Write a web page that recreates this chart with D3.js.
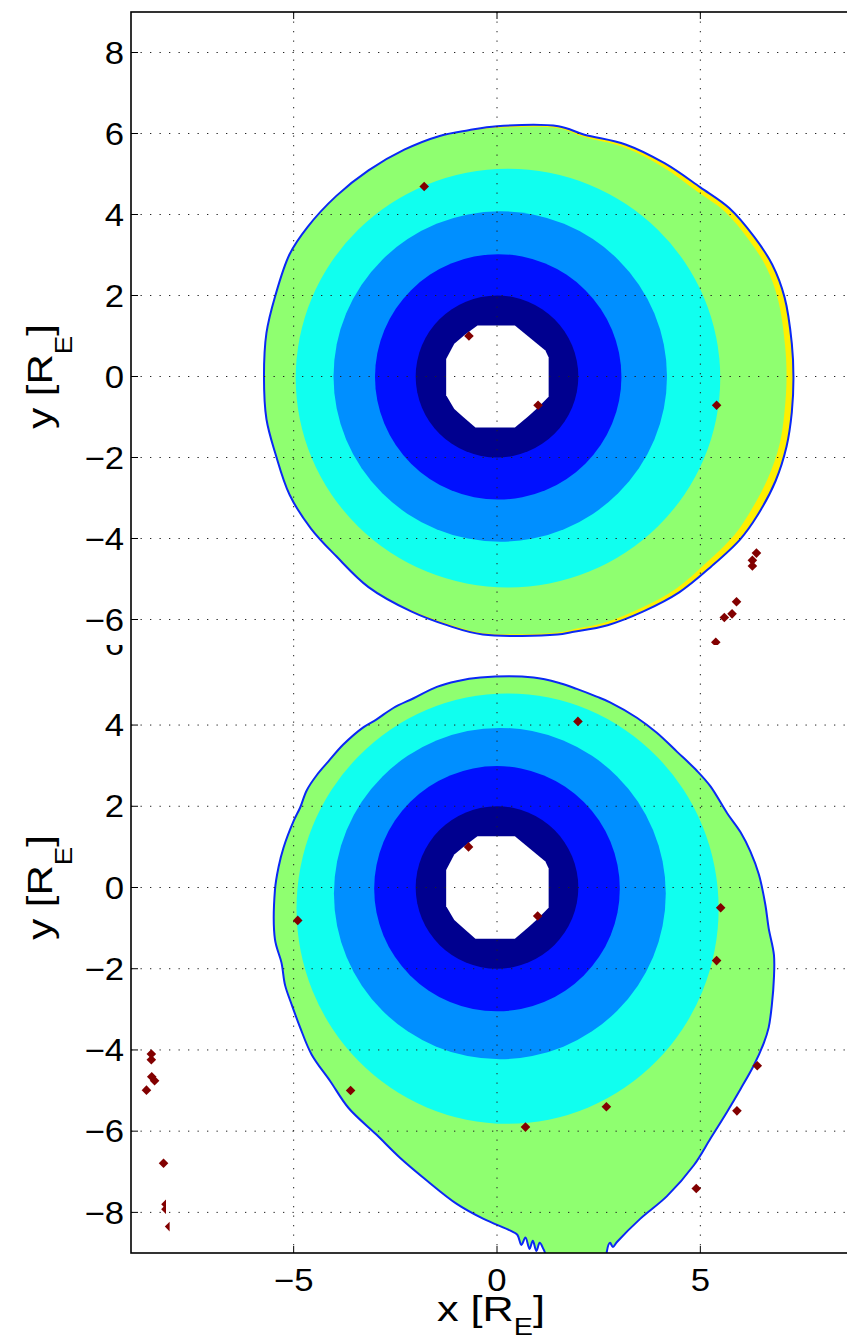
<!DOCTYPE html>
<html>
<head>
<meta charset="utf-8">
<script src="https://cdn.jsdelivr.net/npm/d3@7"></script>
<style>
  html, body { margin: 0; padding: 0; background: #fff; }
  svg { display: block; font-family: "Liberation Sans", Arial, Helvetica, sans-serif; }
</style>
</head>
<body>
<svg id="chart" width="847" height="1342"></svg>
<script>
// --- data (units of R_E) ---
const xTicks = [-5, 0, 5];
const yTicks = [8, 6, 4, 2, 0, -2, -4, -6, -8];

// jet levels, inner ring -> outer rim
const levelColors = ['#00008f', '#0010ff', '#008fff', '#10ffef', '#8fff70', '#ffef00'];

// white hole around the Earth (same in both panels)
const hole = [[-0.48, 1.26], [0.44, 1.26], [1.19, 0.64], [1.27, 0.47], [1.27, -0.5], [0.97, -0.8], [0.75, -1.0],
  [0.44, -1.26], [-0.53, -1.26], [-0.83, -1.0], [-1.05, -0.8], [-1.25, -0.46], [-1.25, 0.43], [-1.05, 0.81], [-0.79, 1.03]];

// top panel : level rings [cx, cy, rx, ry] navy, blue, mid blue, cyan
const topRings = [[0, 0, 2.0, 2.0], [0.03, -0.01, 3.03, 3.03], [0.08, 0, 4.1, 4.08], [0.27, -0.04, 5.22, 5.17]];
const topOuter = [[-0.7, 6.08], [0, 6.18], [1.51, 6.18], [2.15, 5.97], [3.16, 5.73], [4.13, 5.26], [5.0, 4.67],
  [5.71, 4.16], [6.33, 3.44], [6.77, 2.76], [7.07, 1.96], [7.25, 0.81], [7.29, -0.03], [7.25, -0.88], [7.12, -1.73],
  [6.85, -2.58], [6.41, -3.42], [5.98, -4.02], [5.27, -4.69], [4.48, -5.33], [3.6, -5.8], [2.72, -6.14], [1.85, -6.31],
  [1.49, -6.37], [-0.35, -6.37], [-1.23, -6.14], [-2.11, -5.8], [-3.16, -5.2], [-3.95, -4.44], [-4.57, -3.76],
  [-5.1, -2.92], [-5.45, -1.9], [-5.67, -1.05], [-5.73, 0], [-5.67, 1.07], [-5.45, 2.0], [-5.1, 3.02], [-4.66, 3.69],
  [-3.95, 4.46], [-3.16, 5.09], [-2.28, 5.6], [-1.41, 5.94]];
// width of the yellow rim at each outer point
const topRim = [0.02, 0.04, 0.05, 0.06, 0.08, 0.1, 0.13, 0.14, 0.15, 0.16, 0.17, 0.17, 0.17, 0.18, 0.18, 0.2, 0.2,
  0.18, 0.15, 0.12, 0.1, 0.08, 0.06, 0.05, 0.04, 0.04, 0.03, 0.02, 0.02, 0.02, 0.02, 0.01, 0.02, 0.01, 0.02, 0.01,
  0.01, 0.01, 0.01, 0.01, 0.01, 0.01];
const topMarkers = [[-1.79, 4.69], [-0.69, 1.0], [1.01, -0.71], [5.4, -0.71], [6.38, -4.36], [6.28, -4.54],
  [6.28, -4.68], [5.89, -5.56], [5.78, -5.86], [5.59, -5.95], [5.38, -6.56]];

// bottom panel
const bottomRings = [[0, 0, 2.0, 2.0], [0, -0.03, 3.02, 3.02], [0.07, -0.15, 4.08, 4.08], [0.26, -0.52, 5.19, 5.3]];
const bottomOuter = [[-0.41, 5.17], [0.9, 5.17], [1.55, 5.03], [1.96, 4.89], [2.45, 4.7], [2.78, 4.56], [3.44, 4.18],
  [3.93, 3.81], [4.43, 3.34], [4.92, 2.87], [5.25, 2.49], [5.66, 1.83], [5.99, 1.36], [6.23, 0.89], [6.44, 0.32],
  [6.6, -0.43], [6.68, -1.0], [6.81, -1.66], [6.81, -2.22], [6.76, -2.88], [6.68, -3.45], [6.56, -3.83], [6.31, -4.39],
  [5.99, -4.96], [5.66, -5.52], [5.25, -6.18], [4.84, -6.84], [4.18, -7.6], [3.52, -8.16], [2.95, -8.73],
  [2.85, -8.85], [2.78, -8.75], [2.7, -8.97], [2.7, -9.2], [1.3, -9.2], [1.15, -8.92], [1.05, -8.75], [0.97, -8.95],
  [0.88, -8.7], [0.8, -8.9], [0.7, -8.62], [0.6, -8.8], [0.5, -8.55], [0.33, -8.45], [-0.33, -8.16], [-0.99, -7.79],
  [-1.72, -7.22], [-2.38, -6.66], [-2.96, -6.09], [-3.65, -5.43], [-4.1, -4.77], [-4.56, -4.11], [-4.84, -3.45],
  [-5.05, -2.88], [-5.21, -2.41], [-5.3, -1.85], [-5.46, -1.28], [-5.46, -0.06], [-5.37, 0.51], [-5.25, 0.98],
  [-5.0, 1.64], [-4.84, 1.97], [-4.68, 2.39], [-4.43, 2.77], [-4.15, 3.1], [-3.78, 3.52], [-3.28, 3.95],
  [-2.96, 4.14], [-2.55, 4.42], [-2.05, 4.66], [-1.48, 4.94], [-0.99, 5.08]];
const bottomMarkers = [[1.99, 4.09], [-0.7, 1.0], [1.0, -0.7], [-4.9, -0.81], [5.5, -0.5], [5.4, -1.8], [6.4, -4.39],
  [-3.6, -5.0], [2.69, -5.4], [5.9, -5.5], [0.7, -5.9], [4.9, -7.41], [-8.5, -4.1], [-8.5, -4.24], [-8.49, -4.66],
  [-8.42, -4.76], [-8.62, -4.99], [-8.2, -6.79]];
const bottomHalfMarkers = [[-8.14, -7.8], [-8.14, -7.92], [-8.05, -8.35]];

// --- layout ---
const W = 847, H = 1342;
const svg = d3.select('#chart');
svg.append('rect').attr('width', W).attr('height', H).attr('fill', '#fff');

const x = d3.scaleLinear().domain([-9, 9]).range([131, 863]);
const panels = [
  { id: 'top', y: d3.scaleLinear().domain([-9, 9]).range([741, 12]), band: [0, 645],
    rings: topRings, outer: topOuter, rim: topRim, markers: topMarkers, half: [] },
  { id: 'bottom', y: d3.scaleLinear().domain([-9, 9]).range([1253, 522]), band: [645, H],
    rings: bottomRings, outer: bottomOuter, rim: null, markers: bottomMarkers, half: bottomHalfMarkers }
];

const defs = svg.append('defs');
const minus = t => (t < 0 ? '\u2212' + Math.abs(t) : String(t));
const diamond = r => `M0,${-r}L${r},0L0,${r}L${-r},0Z`;
const halfDiamond = r => `M0,${-r}L0,${r}L${-r},0Z`;

panels.forEach(p => {
  const y = p.y;
  const [y0, y1] = [y(9), y(-9)];
  const inBand = py => py > p.band[0] - 12 && py < p.band[1] + 12;

  // each panel is a strip of the figure, the lower one pasted over the upper one
  defs.append('clipPath').attr('id', `band-${p.id}`)
    .append('rect').attr('x', 0).attr('y', p.band[0]).attr('width', W).attr('height', p.band[1] - p.band[0]);
  defs.append('clipPath').attr('id', `plot-${p.id}`)
    .append('rect').attr('x', x(-9)).attr('y', y0).attr('width', x(9) - x(-9)).attr('height', y1 - y0);

  const g = svg.append('g').attr('clip-path', `url(#band-${p.id})`);
  const plot = g.append('g').attr('clip-path', `url(#plot-${p.id})`);

  const poly = d3.line().x(d => x(d[0])).y(d => y(d[1])).curve(d3.curveLinearClosed);
  const edge = d3.line().x(d => x(d[0])).y(d => y(d[1])).curve(d3.curveCatmullRomClosed.alpha(0.5));

  // outer region (yellow rim first, then green inset)
  if (p.rim) {
    plot.append('path').attr('d', edge(p.outer)).attr('fill', levelColors[5]);
    const c = [0.8, -0.1];
    const inner = p.outer.map((pt, i) => {
      const dx = pt[0] - c[0], dy = pt[1] - c[1];
      const len = Math.hypot(dx, dy);
      return [pt[0] - p.rim[i] * dx / len, pt[1] - p.rim[i] * dy / len];
    });
    plot.append('path').attr('d', edge(inner)).attr('fill', levelColors[4]);
  } else {
    plot.append('path').attr('d', edge(p.outer)).attr('fill', levelColors[4]);
  }

  // level bands, largest first
  plot.selectAll('ellipse.ring')
    .data(p.rings.map((r, i) => ({ r, color: levelColors[i] })).reverse())
    .join('ellipse')
    .attr('class', 'ring')
    .attr('cx', d => x(d.r[0]))
    .attr('cy', d => y(d.r[1]))
    .attr('rx', d => x(d.r[0] + d.r[2]) - x(d.r[0]))
    .attr('ry', d => y(d.r[1]) - y(d.r[1] + d.r[3]))
    .attr('fill', d => d.color);

  plot.append('path').attr('d', poly(hole)).attr('fill', '#fff');

  // edge of the data region
  plot.append('path').attr('d', edge(p.outer))
    .attr('fill', 'none').attr('stroke', '#0a28f5').attr('stroke-width', 2);

  // dotted grid
  const grid = plot.append('g').attr('stroke', '#222').attr('stroke-width', 1).attr('stroke-dasharray', '1.3,8.2');
  grid.selectAll('line.gx').data(xTicks).join('line').attr('class', 'gx')
    .attr('x1', d => x(d)).attr('x2', d => x(d)).attr('y1', y0).attr('y2', y1);
  grid.selectAll('line.gy').data(yTicks).join('line').attr('class', 'gy')
    .attr('x1', x(-9)).attr('x2', x(9)).attr('y1', d => y(d)).attr('y2', d => y(d));

  // markers
  plot.selectAll('path.mk').data(p.markers).join('path').attr('class', 'mk')
    .attr('d', diamond(4.8))
    .attr('transform', d => `translate(${x(d[0])},${y(d[1])})`)
    .attr('fill', '#820000');
  plot.selectAll('path.hk').data(p.half).join('path').attr('class', 'hk')
    .attr('d', halfDiamond(4.8))
    .attr('transform', d => `translate(${x(d[0])},${y(d[1])})`)
    .attr('fill', '#820000');

  // axes box and inward ticks
  const ax = g.append('g').attr('stroke', '#000').attr('fill', 'none');
  ax.append('rect').attr('x', x(-9)).attr('y', y0).attr('width', x(9) - x(-9)).attr('height', y1 - y0)
    .attr('stroke-width', 1.6);
  ax.selectAll('line.ty').data(yTicks).join('line').attr('class', 'ty')
    .attr('x1', x(-9)).attr('x2', x(-9) + 7).attr('y1', d => y(d)).attr('y2', d => y(d));
  ax.selectAll('line.tt').data(xTicks).join('line').attr('class', 'tt')
    .attr('x1', d => x(d)).attr('x2', d => x(d)).attr('y1', y0).attr('y2', y0 + 7);
  ax.selectAll('line.tb').data(xTicks).join('line').attr('class', 'tb')
    .attr('x1', d => x(d)).attr('x2', d => x(d)).attr('y1', y1).attr('y2', y1 - 7);

  // tick labels (only those that show in this strip)
  g.selectAll('text.ly').data(yTicks.filter(d => inBand(y(d)))).join('text').attr('class', 'ly')
    .attr('transform', d => `translate(124,${y(d)}) scale(1.12,1)`)
    .attr('dy', '0.36em').attr('text-anchor', 'end')
    .attr('font-size', 31).attr('fill', '#000')
    .text(minus);
  if (inBand(y1 + 40)) {
    g.selectAll('text.lx').data(xTicks).join('text').attr('class', 'lx')
      .attr('transform', d => `translate(${x(d)},${y1 + 38}) scale(1.12,1)`)
      .attr('text-anchor', 'middle')
      .attr('font-size', 31).attr('fill', '#000')
      .text(minus);

    const xl = g.append('text')
      .attr('transform', `translate(${x(0) - 6},${y1 + 68}) scale(1.2,1)`)
      .attr('text-anchor', 'middle').attr('font-size', 36).attr('fill', '#000');
    xl.append('tspan').text('x [R');
    xl.append('tspan').attr('dy', 14).attr('font-size', 24).text('E');
    xl.append('tspan').attr('dy', -14).text(']');
  }

  // y axis label
  const yl = g.append('text')
    .attr('transform', `translate(52,${y(0)}) rotate(-90) scale(1.2,1)`)
    .attr('text-anchor', 'middle').attr('font-size', 35).attr('fill', '#000');
  yl.append('tspan').text('y [R');
  yl.append('tspan').attr('dy', 20).attr('font-size', 23).text('E');
  yl.append('tspan').attr('dy', -20).text(']');
});
</script>
</body>
</html>
